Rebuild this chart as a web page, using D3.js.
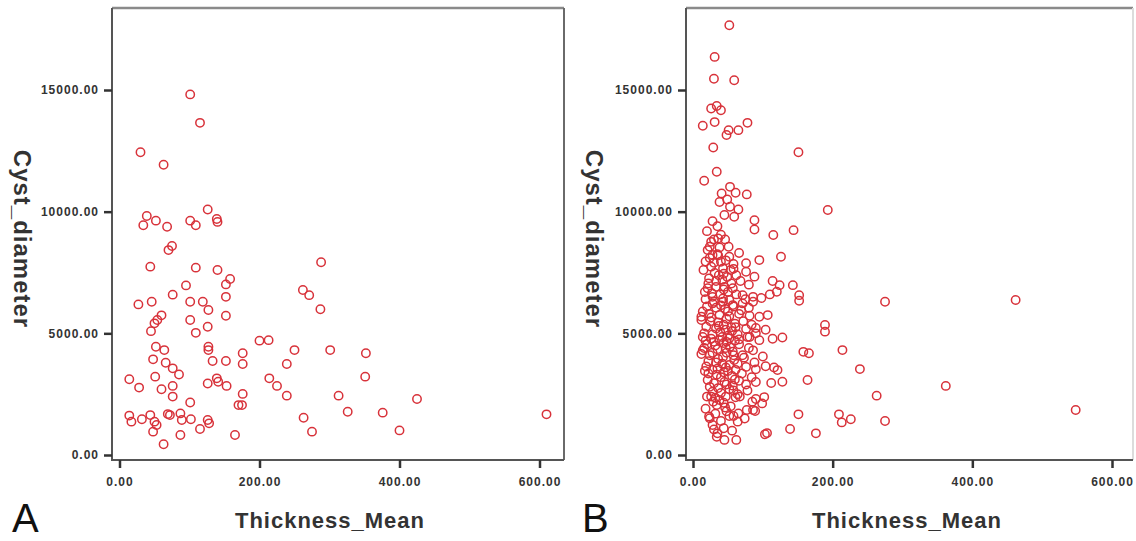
<!DOCTYPE html>
<html>
<head>
<meta charset="utf-8">
<script src="https://cdn.jsdelivr.net/npm/d3@7"></script>
<style>
  body { margin: 0; background: #fff; }
  svg { display: block; }
</style>
</head>
<body>
<svg id="chart" width="1136" height="541"></svg>
<script>
// axis settings
var xTicks = [0, 200, 400, 600];
var yTicks = [0, 5000, 10000, 15000];
var xTitle = "Thickness_Mean";
var yTitle = "Cyst_diameter";

// panel A : [Thickness_Mean, Cyst_diameter]
var pointsA = [
  [101,14820],[115,13650],[30,12440],[63,11930],[126,10090],[39,9820],[34,9440],[52,9630],
  [68,9380],[101,9630],[109,9440],[139,9700],[140,9580],[75,8590],[70,8420],[44,7740],
  [109,7700],[140,7600],[158,7230],[152,7010],[95,6970],[76,6590],[152,6500],[27,6190],
  [46,6300],[101,6300],[119,6300],[127,5960],[60,5740],[54,5550],[50,5410],[45,5090],
  [152,5720],[101,5550],[109,5020],[126,5270],[200,4700],[213,4720],[250,4310],[52,4450],
  [64,4310],[127,4450],[127,4310],[176,4180],[176,3740],[48,3930],[66,3790],[133,3860],
  [152,3860],[239,3740],[76,3560],[85,3310],[14,3110],[51,3220],[28,2770],[60,2700],
  [76,2840],[76,2400],[126,2940],[139,3150],[141,3010],[153,2840],[214,3150],[225,2840],
  [239,2440],[176,2510],[175,2050],[170,2050],[101,2160],[14,1620],[17,1370],[32,1470],
  [44,1640],[50,1370],[53,1230],[48,960],[69,1680],[72,1640],[87,1710],[89,1440],
  [102,1470],[115,1070],[126,1440],[128,1300],[87,820],[63,440],[165,820],[288,7920],
  [262,6780],[271,6570],[287,5990],[301,4310],[352,4180],[351,3220],[313,2440],[425,2300],
  [263,1530],[326,1780],[376,1740],[275,960],[400,1010],[610,1670]
];

// panel B : [Thickness_Mean, Cyst_diameter]
var pointsB = [
  // upper part
  [52,17660],[31,16360],[30,15460],[59,15400],[26,14240],[34,14340],[40,14170],[14,13530],
  [31,13680],[51,13350],[65,13350],[78,13650],[48,13150],[29,12640],[151,12440],[34,11640],
  [16,11270],[41,10750],[53,11020],[61,10780],[77,10710],[38,10400],[49,10500],[53,10200],
  [65,10090],[45,9860],[59,9790],[28,9610],[88,9650],[88,9270],[115,9040],[144,9240],
  [193,10070],[30,8860],[46,8860],[24,8560],[40,9050],[20,9200],[35,9400],
  // 6300 - 9000
  [26,8760],[36,8900],[21,8420],[38,8530],[51,8560],[28,8220],[52,8150],[40,7940],
  [95,8010],[126,8150],[76,7880],[26,7740],[43,7670],[54,7600],[76,7530],[23,7260],
  [37,7390],[49,7320],[62,7390],[88,7330],[114,7150],[124,6980],[143,6980],[120,6710],
  [21,6850],[33,6910],[45,6910],[57,6850],[71,6570],[86,6500],[152,6570],[152,6340],
  [28,6500],[43,6430],[52,6370],
  [18,7950],[24,8100],[35,8250],[47,8000],[58,7850],[66,8300],[31,7480],[42,7200],
  [55,7050],[68,7150],[80,7000],[17,6700],[27,6650],[39,6600],[50,6700],[62,6600],
  [75,6400],[98,6450],[110,6600],[36,8200],[30,7900],[44,7450],[58,7650],
  [15,7600],[22,7050],[33,7150],[44,6800],[18,6400],[30,6300],[40,6150],
  // dense core
  [28,6230],[43,6300],[57,6160],[71,6230],[86,6300],
  [23,5800],[38,5760],[52,5700],[66,5800],[81,5720],[95,5680],[107,5750],
  [19,5270],[33,5200],[47,5150],[61,5250],[76,5180],[90,5220],[104,5150],
  [14,4850],[26,4780],[38,4720],[52,4800],[66,4750],[81,4850],[95,4720],[114,4780],[128,4830],
  [14,4300],[28,4200],[43,4030],[57,4250],[71,4100],[86,4300],[100,4050],
  [19,3640],[35,3550],[47,3600],[61,3500],[76,3620],[90,3520],[104,3650],[116,3600],[121,3490],
  [21,3080],[30,2950],[45,3000],[57,2850],[66,3050],[76,2900],[90,3000],[112,2960],[128,3010],
  [26,2400],[38,2260],[47,2400],[61,2370],[85,2190],[90,2300],[102,2380],
  [23,1580],[28,1230],[52,1600],[64,1370],[86,1850],
  [35,890],[45,620],[62,620],
  [20,6100],[33,6050],[46,6000],[58,6100],[69,5950],[80,6050],[50,5900],[14,5900],
  [12,5550],[25,5500],[36,5450],[48,5600],[60,5400],[72,5500],[84,5350],
  [26,5650],[37,5300],[44,5350],[55,5250],
  [16,5000],[28,4950],[39,5050],[50,4900],[56,5100],[64,4950],[78,4850],[90,5000],
  [18,4700],[30,4650],[42,4850],[48,4650],[60,4700],
  [20,4550],[32,4500],[44,4600],[53,4450],[66,4550],[80,4400],
  [16,4400],[35,4350],[47,4400],[58,4100],
  [12,4150],[24,4100],[36,3950],[48,4200],[59,3900],[73,4000],[88,3800],
  [22,3850],[33,3800],[42,3750],[52,3700],[64,3750],
  [22,3350],[34,3300],[44,3400],[56,3250],[70,3350],[84,3200],
  [17,3450],[28,3500],[40,3200],[50,3450],[60,3100],
  [28,2600],[40,2550],[52,2700],[64,2500],[78,2650],
  [24,2800],[36,2750],[48,2900],[58,2650],[32,2350],[44,2150],[54,2000],
  [18,1900],[32,1700],[46,1950],[58,1600],[74,1500],[44,1100],[56,1000],[30,1050],
  [40,1400],[48,1800],
  // lower / middle spread
  [158,4240],[166,4180],[164,3080],[151,1670],[139,1070],[103,850],[106,900],[176,890],
  [34,750],[24,1510],[65,1710],[89,1810],[99,2120],[77,1850],[20,2400],[29,2190],
  [34,2050],[67,2400],[12,5680],
  // right side
  [275,6300],[462,6370],[189,5340],[189,5070],[214,4310],[239,3530],[362,2840],[263,2440],
  [548,1850],[209,1670],[213,1340],[226,1470],[275,1400]
];

var panels = [
  { name: "A", points: pointsA, left: 112, right: 564, x0: 119.5, x600: 539.5,
    letterX: 12, titleX: 330, titleY: 14, rightColor: "#6a6a6a" },
  { name: "B", points: pointsB, left: 686, right: 1133, x0: 693, x600: 1112,
    letterX: 582, titleX: 907, titleY: 586, rightColor: "#dcdcdc" }
];

var frameTop = 8, frameBottom = 460;
var svg = d3.select("#chart");
var fmt = d3.format(".2f");

var y = d3.scaleLinear().domain([0, 15000]).range([455, 90]);

panels.forEach(function(p) {
  var x = d3.scaleLinear().domain([0, 600]).range([p.x0, p.x600]);
  var g = svg.append("g");

  // frame
  g.append("line").attr("x1", p.left).attr("x2", p.right).attr("y1", frameTop).attr("y2", frameTop)
    .attr("stroke", "#8a8a8a").attr("stroke-width", 2.5);
  g.append("line").attr("x1", p.right).attr("x2", p.right).attr("y1", frameTop).attr("y2", frameBottom)
    .attr("stroke", p.rightColor).attr("stroke-width", 2);
  g.append("line").attr("x1", p.left).attr("x2", p.right).attr("y1", frameBottom).attr("y2", frameBottom)
    .attr("stroke", "#555").attr("stroke-width", 2);
  g.append("line").attr("x1", p.left).attr("x2", p.left).attr("y1", frameTop).attr("y2", frameBottom + 1)
    .attr("stroke", "#555").attr("stroke-width", 2);

  // points
  g.selectAll("circle")
    .data(p.points)
    .enter()
    .append("circle")
    .attr("cx", function(d) { return x(d[0]); })
    .attr("cy", function(d) { return y(d[1]); })
    .attr("r", 4.2)
    .attr("fill", "none")
    .attr("stroke", "#d8323a")
    .attr("stroke-width", 1.5);

  // y axis
  var ya = g.append("g").attr("transform", "translate(" + p.left + ",0)")
    .call(d3.axisLeft(y).tickValues(yTicks).tickSize(8).tickPadding(5).tickFormat(fmt));
  // x axis
  var xa = g.append("g").attr("transform", "translate(0," + frameBottom + ")")
    .call(d3.axisBottom(x).tickValues(xTicks).tickSize(8).tickPadding(9).tickFormat(fmt));

  [ya, xa].forEach(function(a) {
    a.select(".domain").remove();
    a.selectAll(".tick line").attr("stroke", "#333").attr("stroke-width", 2.5);
    a.selectAll(".tick text")
      .attr("fill", "#333")
      .style("font-family", "'Liberation Sans', Arial, sans-serif")
      .style("font-size", "12px")
      .style("font-weight", "bold")
      .style("letter-spacing", "1px");
  });

  // axis titles
  g.append("text")
    .attr("x", p.titleX)
    .attr("y", 528)
    .attr("text-anchor", "middle")
    .attr("fill", "#333")
    .style("font-family", "'Liberation Sans', Arial, sans-serif")
    .style("font-size", "22px")
    .style("font-weight", "bold")
    .style("letter-spacing", "1px")
    .text(xTitle);

  g.append("text")
    .attr("transform", "translate(" + p.titleY + ",239) rotate(90)")
    .attr("text-anchor", "middle")
    .attr("fill", "#333")
    .style("font-family", "'Liberation Sans', Arial, sans-serif")
    .style("font-size", "24px")
    .style("font-weight", "bold")
    .style("letter-spacing", "1px")
    .text(yTitle);

  // panel letter
  g.append("text")
    .attr("x", p.letterX)
    .attr("y", 532)
    .attr("fill", "#111")
    .style("font-family", "'Liberation Sans', Arial, sans-serif")
    .style("font-size", "40px")
    .text(p.name);
});
</script>
</body>
</html>
